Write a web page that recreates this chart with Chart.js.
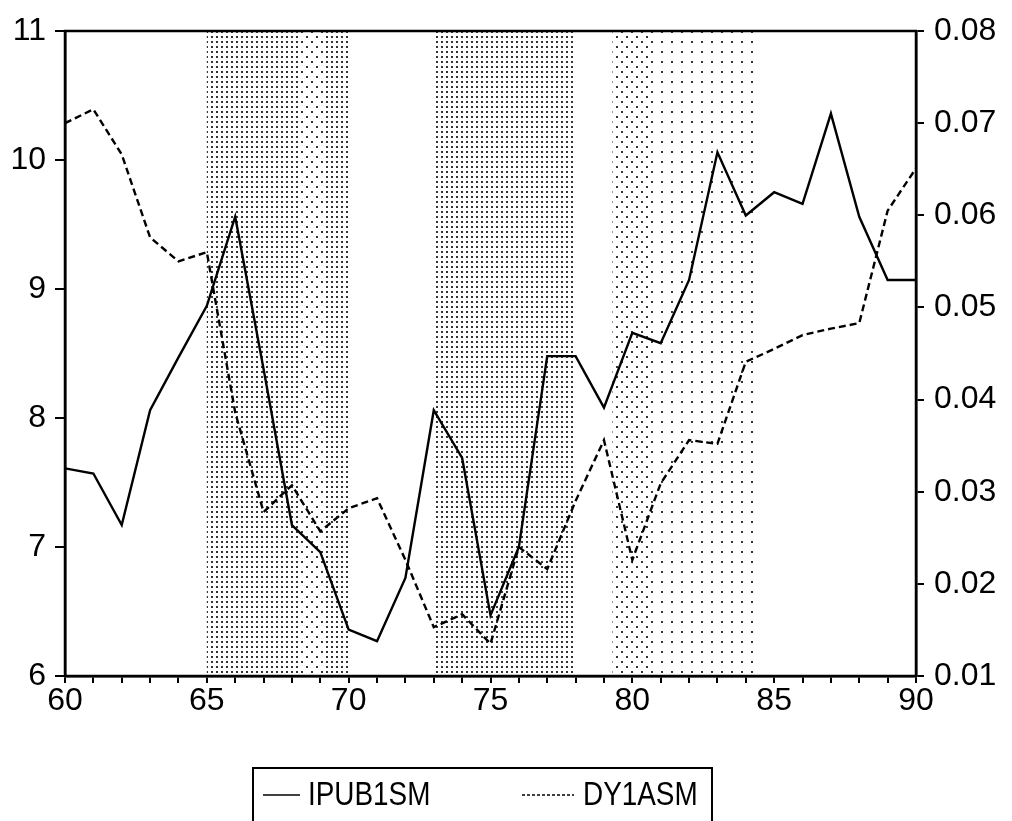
<!DOCTYPE html>
<html lang="en">
<head>
  <meta charset="UTF-8">
  <title>IPUB1SM / DY1ASM</title>
  <style>
    html, body { margin: 0; padding: 0; background: #fff; }
    canvas { display: block; }
  </style>
</head>
<body>
  <canvas id="chart" width="1012" height="821"></canvas>
  <script src="https://cdn.jsdelivr.net/npm/chart.js"></script>
  <script>
    // years 1960-1990, written as two-digit years
    const years = [60, 61, 62, 63, 64, 65, 66, 67, 68, 69, 70, 71, 72, 73, 74, 75,
                   76, 77, 78, 79, 80, 81, 82, 83, 84, 85, 86, 87, 88, 89, 90];

    // left axis series
    const ipub1sm = [7.61, 7.57, 7.17, 8.06, 8.47, 8.87, 9.56, 8.38, 7.17, 6.96, 6.36,
                     6.27, 6.76, 8.06, 7.69, 6.47, 7.00, 8.48, 8.48, 8.08, 8.66, 8.58,
                     9.07, 10.06, 9.57, 9.75, 9.66, 10.36, 9.56, 9.07, 9.07];

    // right axis series
    const dy1asm = [0.0700, 0.0715, 0.0666, 0.0576, 0.0550, 0.0560, 0.0386, 0.0278,
                    0.0307, 0.0257, 0.0282, 0.0293, 0.0226, 0.0153, 0.0167, 0.0135,
                    0.0240, 0.0216, 0.0290, 0.0356, 0.0226, 0.0309, 0.0356, 0.0352,
                    0.0441, 0.0455, 0.0470, 0.0477, 0.0483, 0.0605, 0.0651];

    // shaded periods (dense and faint)
    const denseBands = [[65, 68.3], [69.2, 70], [73, 78]];
    const mediumBands = [[68.3, 69.2], [79.3, 80.8]];
    const faintBands = [[80.8, 84.3]];

    const FONT = "'Liberation Sans', Arial, sans-serif";

    function dotPattern(ctx, tile, dots) {
      const c = document.createElement("canvas");
      c.width = tile;
      c.height = tile;
      const g = c.getContext("2d");
      g.fillStyle = "#333";
      dots.forEach(([x, y]) => g.fillRect(x, y, 2, 2));
      return ctx.createPattern(c, "repeat");
    }

    const shading = {
      id: "shading",
      beforeDatasetsDraw(chart) {
        const { ctx, chartArea: a, scales: { x } } = chart;
        const dense = dotPattern(ctx, 5, [[1, 1]]);
        const medium = dotPattern(ctx, 10, [[1, 1], [6, 6]]);
        const faint = dotPattern(ctx, 10, [[1, 1]]);
        ctx.save();
        ctx.beginPath();
        ctx.rect(a.left, a.top, a.right - a.left, a.bottom - a.top);
        ctx.clip();
        const fill = (bands, pat) => bands.forEach(([from, to]) => {
          ctx.fillStyle = pat;
          const x0 = x.getPixelForValue(from);
          ctx.fillRect(x0, a.top, x.getPixelForValue(to) - x0, a.bottom - a.top);
        });
        fill(denseBands, dense);
        fill(mediumBands, medium);
        fill(faintBands, faint);
        ctx.restore();
      }
    };

    const frame = {
      id: "frame",
      beforeDraw(chart) {
        const { ctx } = chart;
        ctx.save();
        ctx.fillStyle = "#fff";
        ctx.fillRect(0, 0, chart.width, chart.height);
        ctx.restore();
      },
      afterDraw(chart) {
        const { ctx, chartArea: a } = chart;
        ctx.save();
        ctx.strokeStyle = "#000";
        ctx.lineWidth = 2.5;
        ctx.strokeRect(a.left, a.top, a.right - a.left, a.bottom - a.top);
        ctx.restore();
      }
    };

    // legend box under the chart
    const boxLegend = {
      id: "boxLegend",
      afterDraw(chart) {
        const { ctx } = chart;
        const sets = chart.data.datasets;
        const y = 795;
        ctx.save();
        ctx.strokeStyle = "#000";
        ctx.lineWidth = 2;
        ctx.strokeRect(253, 768, 459, 60);

        const items = [
          { x0: 263, x1: 300, tx: 308, dash: [] },
          { x0: 522, x1: 574, tx: 583, dash: [3, 2] }
        ];
        items.forEach((it, i) => {
          ctx.setLineDash(it.dash);
          ctx.lineWidth = 1.6;
          ctx.beginPath();
          ctx.moveTo(it.x0, y);
          ctx.lineTo(it.x1, y);
          ctx.stroke();
          ctx.setLineDash([]);
          ctx.save();
          ctx.translate(it.tx, y);
          ctx.scale(0.82, 1);
          ctx.fillStyle = "#000";
          ctx.font = "34px " + FONT;
          ctx.textBaseline = "middle";
          ctx.fillText(sets[i].label, 0, 1);
          ctx.restore();
        });
        ctx.restore();
      }
    };

    new Chart(document.getElementById("chart"), {
      type: "line",
      data: {
        datasets: [
          {
            label: "IPUB1SM",
            data: years.map((yr, i) => ({ x: yr, y: ipub1sm[i] })),
            yAxisID: "y",
            borderColor: "#000",
            borderWidth: 2.4,
            pointRadius: 0,
            tension: 0
          },
          {
            label: "DY1ASM",
            data: years.map((yr, i) => ({ x: yr, y: dy1asm[i] })),
            yAxisID: "y1",
            borderColor: "#000",
            borderWidth: 2.4,
            borderDash: [7, 4],
            pointRadius: 0,
            tension: 0
          }
        ]
      },
      options: {
        responsive: false,
        animation: false,
        layout: { padding: { top: 31, left: 0, right: 0, bottom: 0 } },
        plugins: {
          legend: { display: false },
          tooltip: { enabled: false }
        },
        scales: {
          x: {
            type: "linear",
            min: 60,
            max: 90,
            afterFit: (s) => { s.height = 145; },
            grid: { drawOnChartArea: false, color: "#000", tickLength: 7, lineWidth: 2 },
            border: { color: "#000", width: 2.5 },
            ticks: {
              stepSize: 1,
              autoSkip: false,
              maxRotation: 0,
              padding: -1,
              color: "#000",
              font: { family: FONT, size: 32 },
              callback: (v) => (v % 5 === 0 ? v : "")
            }
          },
          y: {
            position: "left",
            min: 6,
            max: 11,
            afterFit: (s) => { s.width = 65; },
            grid: { drawOnChartArea: false, color: "#000", tickLength: 10, lineWidth: 2 },
            border: { color: "#000", width: 2.5 },
            ticks: {
              stepSize: 1,
              padding: 9,
              color: "#000",
              font: { family: FONT, size: 32 }
            }
          },
          y1: {
            position: "right",
            min: 0.01,
            max: 0.08,
            afterFit: (s) => { s.width = 96; },
            grid: { drawOnChartArea: false, color: "#000", tickLength: 8, lineWidth: 2 },
            border: { color: "#000", width: 2.5 },
            ticks: {
              stepSize: 0.01,
              padding: 10,
              color: "#000",
              font: { family: FONT, size: 32 },
              callback: (v) => v.toFixed(2)
            }
          }
        }
      },
      plugins: [frame, shading, boxLegend]
    });
  </script>
</body>
</html>
